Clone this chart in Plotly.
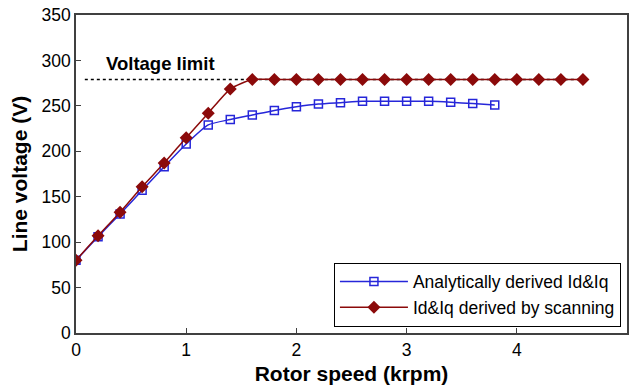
import plotly.graph_objects as go

speed_analytic = [0.0, 0.2, 0.4, 0.6, 0.8, 1.0, 1.2, 1.4, 1.6, 1.8, 2.0, 2.2, 2.4, 2.6, 2.8, 3.0, 3.2, 3.4, 3.6, 3.8]
volt_analytic = [80, 106, 131, 157, 183, 208, 229, 235, 240, 245, 249, 252, 253.5, 255, 255, 255, 255, 254, 252.5, 251]

speed_scan = [0.0, 0.2, 0.4, 0.6, 0.8, 1.0, 1.2, 1.4, 1.6, 1.8, 2.0, 2.2, 2.4, 2.6, 2.8, 3.0, 3.2, 3.4, 3.6, 3.8, 4.0, 4.2, 4.4, 4.6]
volt_scan = [80, 107, 133, 161, 187, 215, 242, 268.5, 279, 279, 279, 279, 279, 279, 279, 279, 279, 279, 279, 279, 279, 279, 279, 279]

limit_x = [0.08, 4.6]
limit_y = [279, 279]

x_ticks = [0, 1, 2, 3, 4, 5]
y_ticks = [0, 50, 100, 150, 200, 250, 300, 350]

blue = "#2626d9"
red = "#8b0a0a"
FONT = "Arial, Liberation Sans"

fig = go.Figure()
fig.add_trace(go.Scatter(x=limit_x, y=limit_y, mode="lines",
                         line=dict(color="black", width=1.3, dash="dot"),
                         showlegend=False, hoverinfo="skip"))
fig.add_trace(go.Scatter(x=speed_analytic, y=volt_analytic, mode="lines+markers",
                         name="Analytically derived Id&Iq",
                         line=dict(color=blue, width=1.5, shape="spline", smoothing=0.6),
                         marker=dict(symbol="square-open", size=8, color=blue, line=dict(width=1.5))))
fig.add_trace(go.Scatter(x=speed_scan, y=volt_scan, mode="lines+markers",
                         name="Id&Iq derived by scanning",
                         line=dict(color=red, width=1.5, shape="spline", smoothing=0.6),
                         marker=dict(symbol="diamond", size=10, color=red)))

fig.add_annotation(x=0.765, y=297, text="<b>Voltage limit</b>", showarrow=False,
                   font=dict(family=FONT, size=18.5, color="black"))

axis_common = dict(showline=True, linecolor="#404040", linewidth=1.5, mirror=True,
                   ticks="inside", ticklen=5, tickcolor="#404040", showgrid=False,
                   zeroline=False, tickfont=dict(family=FONT, size=17.5, color="black"))

fig.update_xaxes(range=[0, 5], tickvals=x_ticks,
                 title=dict(text="<b>Rotor speed (krpm)</b>", standoff=8,
                            font=dict(family=FONT, size=21, color="black")),
                 **axis_common)
fig.update_yaxes(range=[0, 350], tickvals=y_ticks,
                 title=dict(text="<b>Line voltage (V)</b>", standoff=8,
                            font=dict(family=FONT, size=21, color="black")),
                 **axis_common)

fig.update_layout(
    width=630, height=389,
    margin=dict(l=76, r=1, t=15, b=56),
    plot_bgcolor="white", paper_bgcolor="white",
    legend=dict(x=0.989, y=0.02, xanchor="right", yanchor="bottom",
                bordercolor="black", borderwidth=1, bgcolor="white",
                font=dict(family=FONT, size=17.5, color="black"),
                tracegroupgap=0, itemwidth=68),
)

fig.write_html("out.html")
